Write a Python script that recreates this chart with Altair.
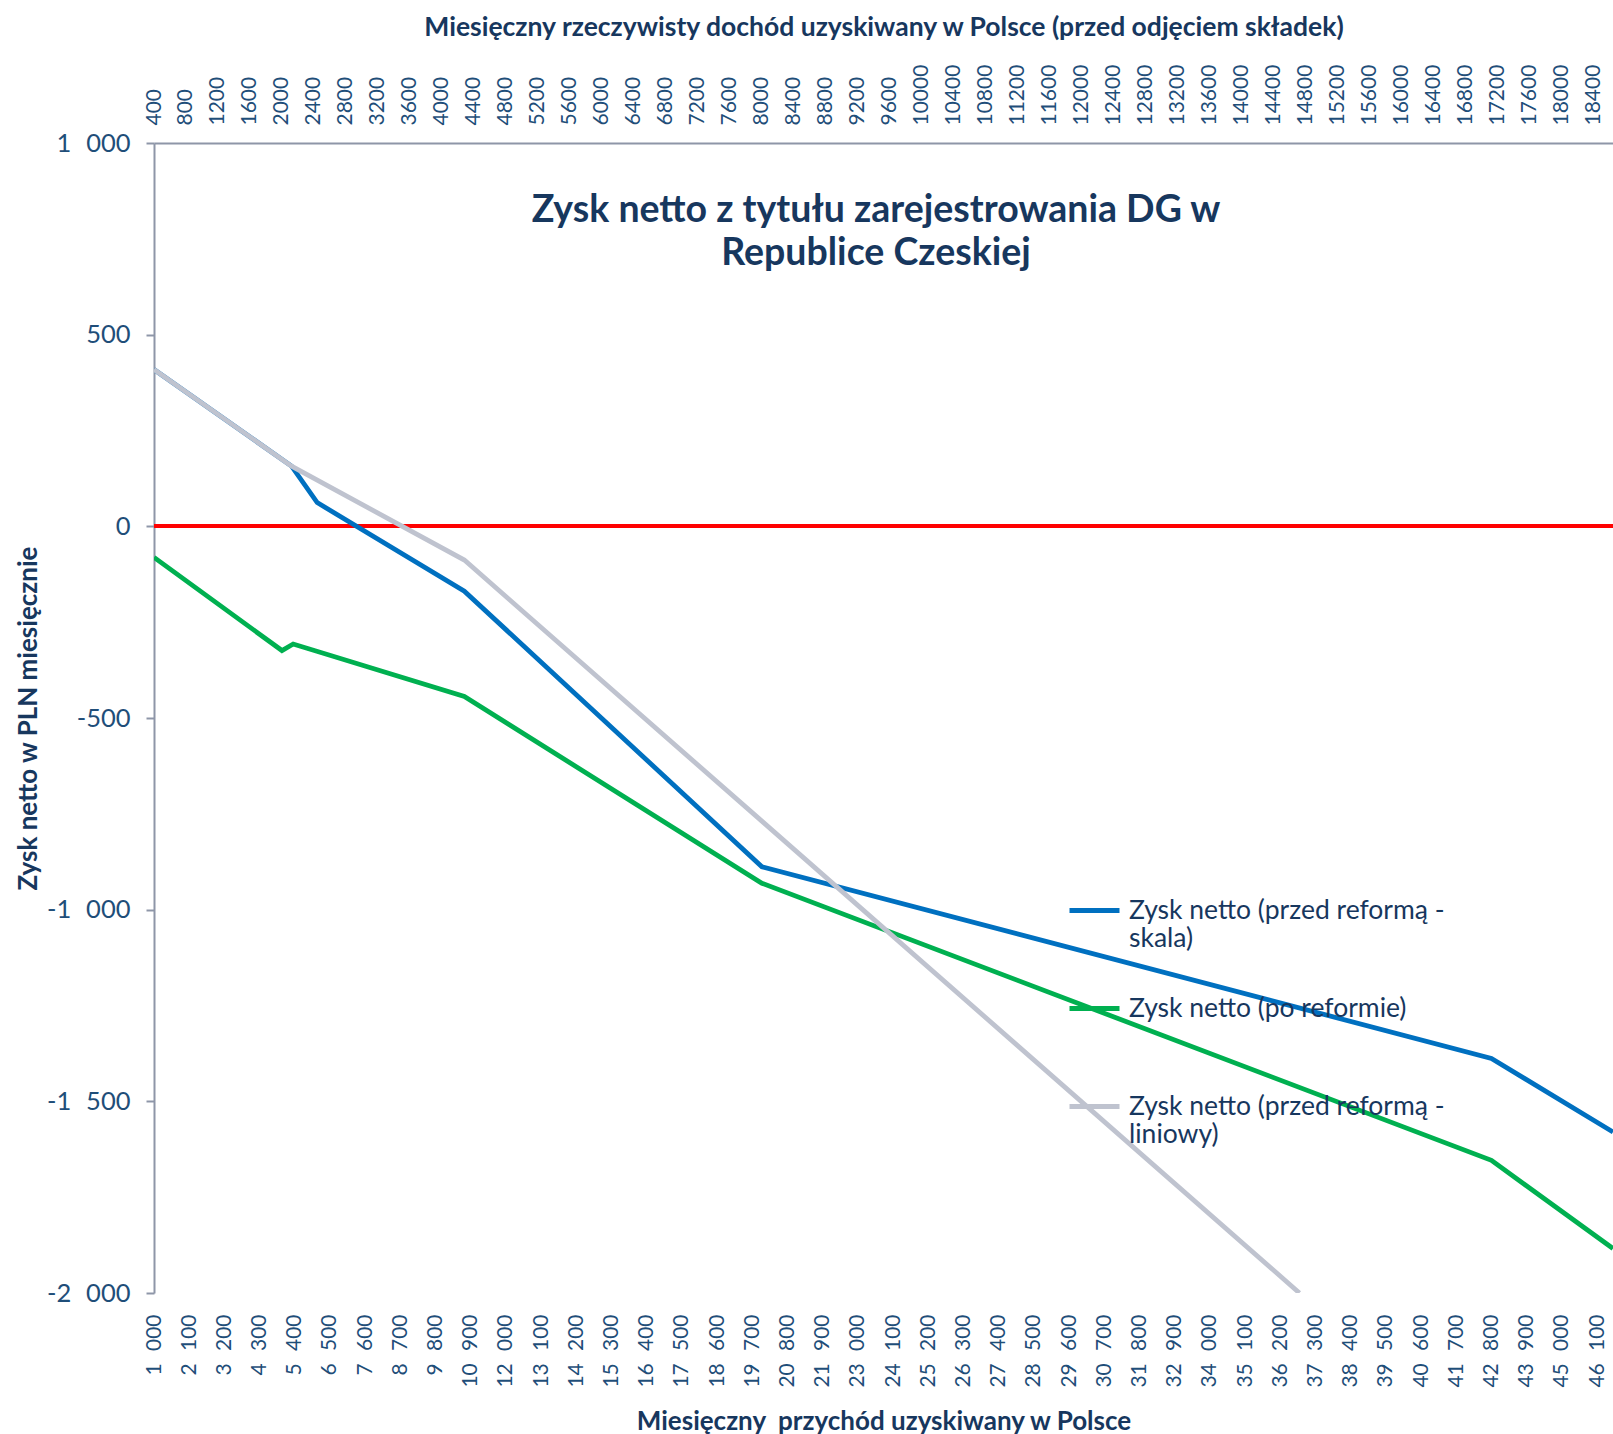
import altair as alt
import pandas as pd

# Net monthly gain (PLN) from registering the business in the Czech Republic,
# read at the break points of each series against monthly revenue in Poland.
przychod_skala = [1000, 5300, 6100, 10700, 20000, 42800, 46600]
zysk_skala = [409, 157, 62, -169, -888, -1388, -1580]

przychod_reforma = [1000, 5000, 5350, 10700, 20000, 42800, 46600]
zysk_reforma = [-81, -324, -307, -444, -931, -1654, -1884]

przychod_liniowy = [1000, 5300, 10700, 36800]
zysk_liniowy = [409, 157, -88, -2000]

series_names = [
    "Zysk netto (przed reformą - skala)",
    "Zysk netto (po reformie)",
    "Zysk netto (przed reformą - liniowy)",
]
series_colors = ["#0070C0", "#00B050", "#BFC3CF"]

# Axis labels: revenue on the bottom, actual income (before contributions) on top
przychod_ticks = [
    1000, 2100, 3200, 4300, 5400, 6500, 7600, 8700, 9800, 10900, 12000,
    13100, 14200, 15300, 16400, 17500, 18600, 19700, 20800, 21900, 23000,
    24100, 25200, 26300, 27400, 28500, 29600, 30700, 31800, 32900, 34000,
    35100, 36200, 37300, 38400, 39500, 40600, 41700, 42800, 43900, 45000,
    46100,
]
dochod_ticks = [
    400, 800, 1200, 1600, 2000, 2400, 2800, 3200, 3600, 4000, 4400, 4800,
    5200, 5600, 6000, 6400, 6800, 7200, 7600, 8000, 8400, 8800, 9200, 9600,
    10000, 10400, 10800, 11200, 11600, 12000, 12400, 12800, 13200, 13600,
    14000, 14400, 14800, 15200, 15600, 16000, 16400, 16800, 17200, 17600,
    18000, 18400,
]
zysk_ticks = [-2000, -1500, -1000, -500, 0, 500, 1000]

title_lines = ["Zysk netto z tytułu zarejestrowania DG w", "Republice Czeskiej"]

PRZYCHOD_DOMAIN = [1000, 46600]
# income shown on the top axis grows by 40 PLN per 100 PLN of revenue
DOCHOD_DOMAIN = [400, 400 + 0.4 * (PRZYCHOD_DOMAIN[1] - PRZYCHOD_DOMAIN[0])]

rows = []
for name, xs, ys in [
    (series_names[0], przychod_skala, zysk_skala),
    (series_names[1], przychod_reforma, zysk_reforma),
    (series_names[2], przychod_liniowy, zysk_liniowy),
]:
    for x, y in zip(xs, ys):
        rows.append({"seria": name, "przychod": x, "zysk": y,
                     "dochod": 400 + 0.4 * (x - 1000)})
df = pd.DataFrame(rows)

W, H = 1459, 1150
FONT = "Lato"
LABEL_COLOR = "#1F4E79"
TITLE_COLOR = "#17375E"
AXIS_GREY = "#8E96A8"

# thousands grouped with a figure space, plain hyphen for negatives
label_expr = ("replace(replace(format(datum.value, ','), ',', '\u2007'), '\u2212', '-')")

y_enc = alt.Y(
    "zysk:Q",
    scale=alt.Scale(domain=[-2000, 1000], nice=False, zero=False),
    axis=alt.Axis(
        values=zysk_ticks, labelExpr=label_expr, grid=False,
        title="Zysk netto w PLN miesięcznie", titleFont=FONT, titleFontSize=26,
        titleFontWeight="bold", titleColor=TITLE_COLOR, titleAngle=-90,
        titleX=-126, titleY=H / 2, titleAlign="center", titleBaseline="middle",
        labelFont=FONT, labelFontSize=25.5, labelColor=LABEL_COLOR,
        labelPadding=16, tickSize=8, tickColor=AXIS_GREY, tickWidth=2,
        domainColor=AXIS_GREY, domainWidth=2,
    ),
)

zero_line = alt.Chart(df).mark_rule(color="#FF0000", strokeWidth=3.5).encode(
    y=alt.datum(0)
)

lines = alt.Chart(df).mark_line(strokeWidth=4.8, clip=True).encode(
    x=alt.X(
        "przychod:Q",
        scale=alt.Scale(domain=PRZYCHOD_DOMAIN, nice=False, zero=False),
        axis=alt.Axis(
            orient="bottom", values=przychod_ticks, labelExpr=label_expr,
            labelAngle=-90, labelFont=FONT, labelFontSize=21,
            labelColor=LABEL_COLOR, labelPadding=21, ticks=False, domain=False,
            grid=False, labelOverlap=False, labelFlush=False,
            title="Miesięczny\u00a0 przychód uzyskiwany w Polsce", titleFont=FONT,
            titleFontSize=26, titleFontWeight="bold", titleColor=TITLE_COLOR,
            titleX=729.5, titleY=128, titleAlign="center", titleBaseline="middle",
        ),
    ),
    y=y_enc,
    color=alt.Color(
        "seria:N",
        scale=alt.Scale(domain=series_names, range=series_colors),
        legend=alt.Legend(
            orient="none", legendX=913, legendY=740, title=None,
            symbolType="stroke", symbolSize=2500, symbolStrokeWidth=4.8,
            labelFont=FONT, labelFontSize=26.5, labelColor=TITLE_COLOR,
            labelLimit=0, labelOffset=7, rowPadding=28, gridAlign="all",
            labelExpr=(
                "indexof(datum.label, '- ') > 0 ? "
                "[slice(datum.label, 0, indexof(datum.label, '- ') + 1), "
                "slice(datum.label, indexof(datum.label, '- ') + 2)] : datum.label"
            ),
        ),
    ),
    detail="seria:N",
)

top_axis = alt.Chart(df).mark_point(opacity=0).encode(
    x=alt.X(
        "dochod:Q",
        scale=alt.Scale(domain=DOCHOD_DOMAIN, nice=False, zero=False),
        axis=alt.Axis(
            orient="top", values=dochod_ticks, format="d", labelAngle=-90,
            labelFont=FONT, labelFontSize=21, labelColor=LABEL_COLOR,
            labelPadding=18, ticks=False, domain=True, domainColor=AXIS_GREY,
            domainWidth=2, grid=False, labelOverlap=False, labelFlush=False,
            title="Miesięczny rzeczywisty dochód uzyskiwany w Polsce (przed odjęciem składek)",
            titleFont=FONT, titleFontSize=26.5, titleFontWeight="bold",
            titleColor=TITLE_COLOR, titleX=729.5, titleY=-116,
            titleAlign="center", titleBaseline="middle",
        ),
    ),
    y=alt.Y("zysk:Q"),
)

title_text = alt.Chart(pd.DataFrame({"t": [0]})).mark_text(
    text=title_lines, font=FONT, fontSize=37.5, fontWeight="bold",
    color=TITLE_COLOR, align="center", baseline="middle", lineHeight=43,
).encode(x=alt.value(722), y=alt.value(68))

chart = (
    alt.layer(zero_line, lines, top_axis, title_text)
    .resolve_scale(x="independent")
    .properties(
        width=W, height=H,
        autosize=alt.AutoSizeParams(type="none"),
        padding={"left": 154, "top": 143, "right": 0, "bottom": 141},
        background="white",
    )
    .configure_view(stroke=None)
)

chart.save("out.html", embed_options={"renderer": "svg", "actions": False})
